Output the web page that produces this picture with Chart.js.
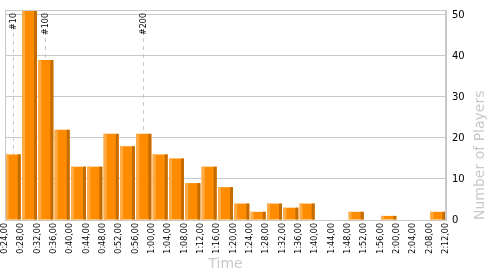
<!DOCTYPE html>
<html>
<head>
<meta charset="utf-8">
<script src="https://cdn.jsdelivr.net/npm/chart.js@4"></script>
<style>
  body { margin: 0; background: #fff; }
</style>
</head>
<body>
<canvas id="timeChart" width="500" height="275"></canvas>
<script>
// Bin edges (minutes:seconds,hundredths)
const timeLabels = ['0:24,00', '0:28,00', '0:32,00', '0:36,00', '0:40,00', '0:44,00', '0:48,00',
  '0:52,00', '0:56,00', '1:00,00', '1:04,00', '1:08,00', '1:12,00', '1:16,00', '1:20,00',
  '1:24,00', '1:28,00', '1:32,00', '1:36,00', '1:40,00', '1:44,00', '1:48,00', '1:52,00',
  '1:56,00', '2:00,00', '2:04,00', '2:08,00', '2:12,00'];

// Players per 4 minute bin
const playerCounts = [16, 52, 39, 22, 13, 13, 21, 18, 21, 16, 15, 9, 13, 8, 4, 2, 4, 3, 4, 0, 0, 2, 0, 1, 0, 0, 2];

// Rank markers (time in minutes)
const markerLabels = ['#10', '#100', '#200'];
const markerMinutes = [26.0, 33.8, 57.8];

const yTicks = [0, 10, 20, 30, 40, 50];

const startMinute = 24;
const binMinutes = 4;

const fontFamily = "'DejaVu Sans', sans-serif";
const lineGray = '#c8c8c8';

// helper: bar shading + markers + titles
const decorations = {
  id: 'decorations',
  beforeDatasetsDraw(chart) {
    const ctx = chart.ctx;
    const area = chart.chartArea;
    const xs = chart.scales.x;
    ctx.save();
    ctx.font = '8px ' + fontFamily;
    markerMinutes.forEach((m, i) => {
      const px = Math.round(xs.getPixelForValue((m - startMinute) / binMinutes)) + 0.5;
      const textLen = ctx.measureText(markerLabels[i]).width;
      ctx.strokeStyle = lineGray;
      ctx.lineWidth = 1;
      ctx.setLineDash([4, 4]);
      ctx.beginPath();
      ctx.moveTo(px, area.top + textLen + 6);
      ctx.lineTo(px, area.bottom);
      ctx.stroke();
      ctx.setLineDash([]);
      ctx.save();
      ctx.translate(px, area.top + 3);
      ctx.rotate(-Math.PI / 2);
      ctx.fillStyle = '#000';
      ctx.textAlign = 'right';
      ctx.textBaseline = 'middle';
      ctx.fillText(markerLabels[i], 0, 0);
      ctx.restore();
    });
    ctx.restore();
  },
  afterDatasetsDraw(chart) {
    const ctx = chart.ctx;
    const area = chart.chartArea;
    const meta = chart.getDatasetMeta(0);
    ctx.save();
    ctx.beginPath();
    ctx.rect(area.left, area.top, area.right - area.left, area.bottom - area.top);
    ctx.clip();
    meta.data.forEach(bar => {
      const p = bar.getProps(['x', 'y', 'base', 'width'], true);
      const h = p.base - p.y;
      if (h <= 0) return;
      const left = p.x - p.width / 2;
      ctx.fillStyle = '#ffab45';
      ctx.fillRect(left, p.y, 3, h);
      ctx.fillStyle = '#c46c00';
      ctx.fillRect(left + p.width - 3, p.y, 3, h);
    });
    ctx.restore();
  },
  afterDraw(chart) {
    const ctx = chart.ctx;
    const area = chart.chartArea;
    ctx.save();
    // plot frame
    ctx.strokeStyle = lineGray;
    ctx.lineWidth = 1;
    ctx.strokeRect(Math.round(area.left) + 0.5, Math.round(area.top) + 0.5,
      Math.round(area.right - area.left) - 1, Math.round(area.bottom - area.top));
    // axis titles
    ctx.fillStyle = lineGray;
    ctx.font = '14px ' + fontFamily;
    ctx.textAlign = 'center';
    ctx.textBaseline = 'middle';
    ctx.fillText('Time', (area.left + area.right) / 2, 264);
    ctx.translate(480, area.bottom);
    ctx.rotate(-Math.PI / 2);
    ctx.textAlign = 'left';
    ctx.fillText('Number of Players', 0, 0);
    ctx.restore();
  }
};

document.addEventListener('DOMContentLoaded', function() {
  const ctx = document.getElementById('timeChart').getContext('2d');

  new Chart(ctx, {
    type: 'bar',
    data: {
      datasets: [{
        data: playerCounts.map((v, i) => ({ x: i + 0.5, y: v })),
        backgroundColor: '#ff8c00',
        borderWidth: 0,
        barPercentage: 0.92,
        categoryPercentage: 1
      }]
    },
    options: {
      responsive: false,
      animation: false,
      layout: {
        padding: { left: 5, top: 10, right: 0, bottom: 0 }
      },
      plugins: {
        legend: { display: false },
        tooltip: { enabled: false }
      },
      scales: {
        x: {
          type: 'linear',
          position: 'bottom',
          offset: false,
          min: 0,
          max: timeLabels.length - 1,
          grid: { display: false, drawTicks: false, offset: false },
          border: { display: true, color: lineGray },
          afterFit: function(scale) {
            scale.height = 55;
            scale.paddingLeft = 0;
            scale.paddingRight = 0;
          },
          ticks: {
            stepSize: 1,
            autoSkip: false,
            minRotation: 90,
            maxRotation: 90,
            padding: 3,
            color: '#000',
            font: { family: fontFamily, size: 8 },
            callback: function(value) {
              return timeLabels[value] || '';
            }
          }
        },
        y: {
          position: 'right',
          min: 0,
          max: 51.2,
          grid: { color: lineGray, drawTicks: false },
          border: { display: true, color: lineGray },
          afterFit: function(scale) {
            scale.width = 54;
            scale.paddingTop = 0;
            scale.paddingBottom = 0;
          },
          afterBuildTicks: function(scale) {
            scale.ticks = yTicks.map(v => ({ value: v }));
          },
          ticks: {
            padding: 6,
            color: '#000',
            font: { family: fontFamily, size: 10 }
          }
        }
      }
    },
    plugins: [decorations]
  });
});
</script>
</body>
</html>
